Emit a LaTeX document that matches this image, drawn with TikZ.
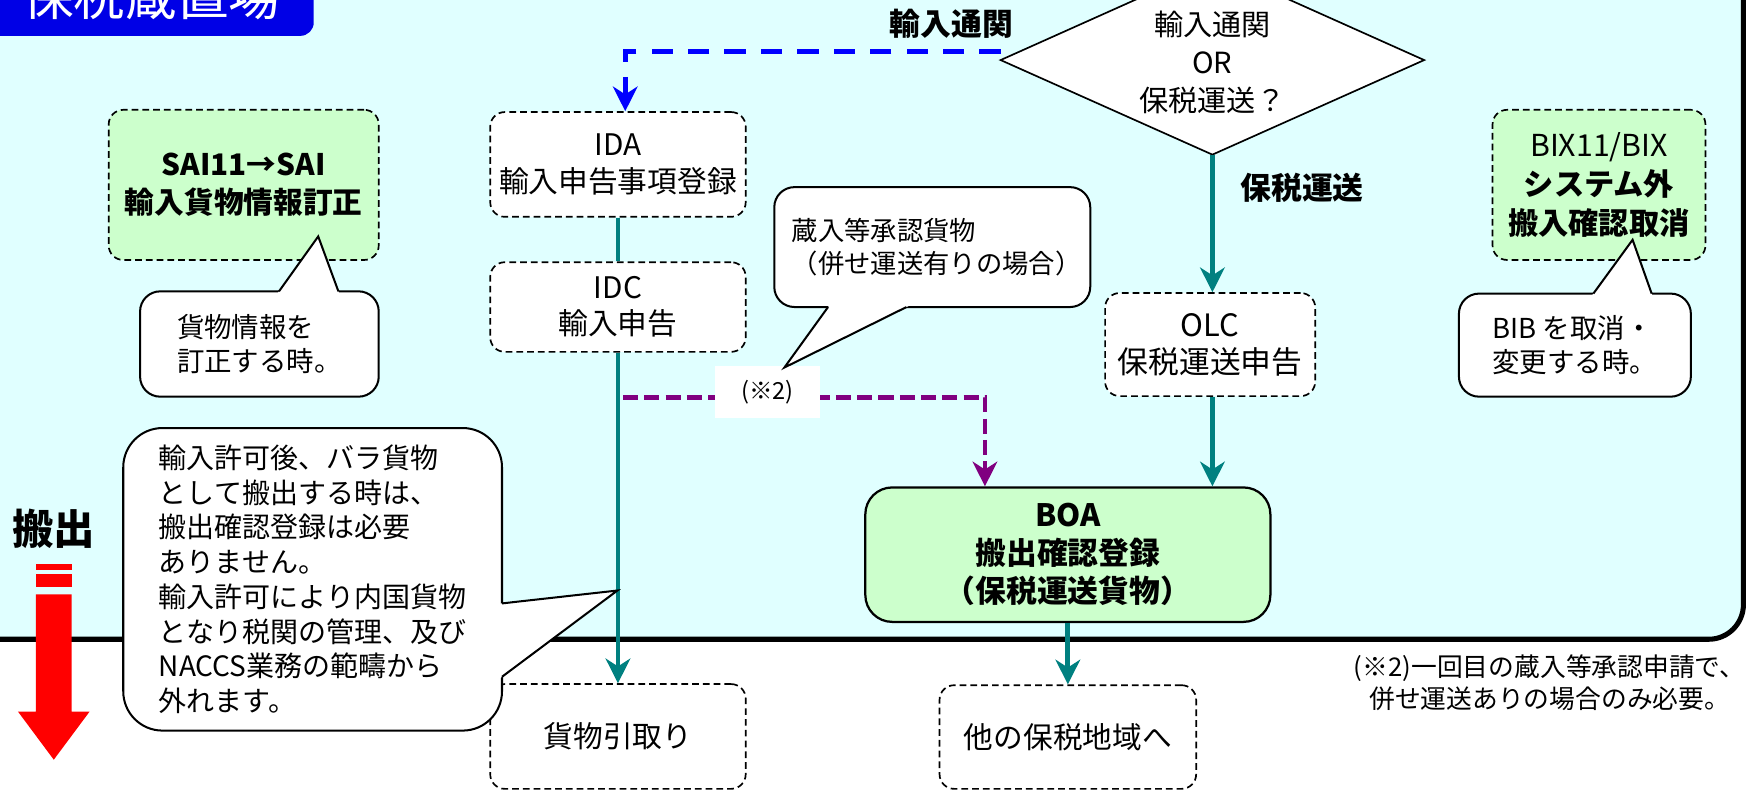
\documentclass[tikz,border=0pt]{standalone}
\usepackage{fontspec}
\setmainfont{Noto Sans CJK JP}
\usetikzlibrary{arrows.meta,calc}
\definecolor{panelc}{RGB}{224,255,255}
\definecolor{tabblue}{RGB}{0,0,230}
\definecolor{gfill}{RGB}{204,255,204}
\definecolor{tealc}{RGB}{0,128,128}
\definecolor{purp}{RGB}{128,0,128}
\definecolor{arrred}{RGB}{255,0,0}
\definecolor{bluec}{RGB}{0,0,255}
\begin{document}
\begin{tikzpicture}[x=1pt,y=-1pt,
  dbox/.style={draw=black, line width=1.5pt, dash pattern=on 6pt off 3.6pt, rounded corners=13pt, fill=white, align=center, inner sep=0pt, font=\fontsize{26.5}{32.5}\selectfont},
  gbox/.style={dbox, fill=gfill, font=\fontsize{26.5}{34}\selectfont\bfseries},
  callout/.style={draw=black, line width=1.8pt, fill=white, rounded corners=18pt, align=left, inner sep=0pt, font=\fontsize{24.5}{30.5}\selectfont},
  ptr/.style={draw=black, line width=1.8pt, line join=miter},
  arr/.style={-{Stealth[length=22pt,width=22pt,inset=7pt]}},
  tealline/.style={draw=tealc, line width=4.3pt},
  blab/.style={font=\fontsize{27.5}{30}\selectfont\bfseries, inner sep=0pt},
]
\useasboundingbox (0,0) rectangle (1560,705);
\clip (0,0) rectangle (1560,705);
\fill[white] (0,0) rectangle (1560,705);
% panel
\draw[line width=4.5pt, fill=panelc, rounded corners=31pt] (-40,-60) rectangle (1555.9,570.5);
% title tab
\fill[tabblue, rounded corners=12pt] (-30,-50) rectangle (280,32);
\node[text=white, font=\fontsize{46}{46}\selectfont, inner sep=0pt] (title) at (135,-4) {保税蔵置場};
% diamond
\coordinate (dl) at (893,53.6);
\coordinate (dr) at (1271,53.6);
\coordinate (db) at (1082,138);
\coordinate (dt) at (1082,-31);
\draw[line width=1.5pt, fill=white] (dl) -- (dt) -- (dr) -- (db) -- cycle;
\node[align=center, font=\fontsize{26}{34}\selectfont, inner sep=0pt] (dtext) at (1082,56) {輸入通関\\OR\\保税運送？};
% boxes
\node[dbox, minimum width=228pt, minimum height=93.5pt] (IDA) at (551.5,146.75) {IDA\\輸入申告事項登録};
\node[dbox, minimum width=228pt, minimum height=80pt] (IDC) at (551.5,274) {IDC\\輸入申告};
\node[dbox, minimum width=228pt, minimum height=93.5pt] (HK) at (551.5,657.25) {貨物引取り};
\node[dbox, minimum width=187.5pt, minimum height=92pt, font=\fontsize{27.5}{33}\selectfont] (OLC) at (1080,307.5) {OLC\\保税運送申告};
\node[draw=black, line width=2pt, rounded corners=24pt, fill=gfill, minimum width=361.5pt, minimum height=120pt, align=center, inner sep=0pt, font=\fontsize{27.5}{34}\selectfont\bfseries] (BOA) at (953,495) {BOA\\搬出確認登録\\（保税運送貨物）};
\node[dbox, minimum width=229pt, minimum height=92.5pt] (OT) at (953,657.75) {他の保税地域へ};
\node[gbox, minimum width=241pt, minimum height=134pt] (SAI) at (217.5,165) {SAI11→SAI\\輸入貨物情報訂正};
\node[gbox, minimum width=190pt, minimum height=134pt, font=\fontsize{27}{34.5}\selectfont\bfseries] (BIX) at (1427,165) {{\mdseries BIX11/BIX}\\システム外\\搬入確認取消};
% labels
\node[blab] (lb1) at (849,21) {輸入通関};
\node[blab] (lb2) at (1162,168) {保税運送};
% blue dashed connector
\coordinate (bst) at (893,46);
\draw[draw=bluec, line width=4.3pt, dash pattern=on 19pt off 13.5pt, arr] (bst) -| ([xshift=6.5pt]IDA.north);
% teal connectors
\draw[tealline] (IDA.south) -- (IDC.north);
\draw[tealline, arr] (IDC.south) -- (HK.north);
\draw[tealline, arr] (db) -- (db |- OLC.north);
\draw[tealline, arr] (db |- OLC.south) -- (db |- BOA.north);
\draw[tealline, arr] (BOA.south) -- (OT.north);
% purple dashed connector
\coordinate (pst) at (556,354.5);
\draw[draw=purp, line width=4.3pt, dash pattern=on 13.5pt off 5.5pt, arr] (pst) -| ([xshift=-74pt]BOA.north);
\node[fill=white, minimum width=94pt, minimum height=46pt, inner sep=0pt, font=\fontsize{21}{21}\selectfont] (n2) at (685,350) {(※2)};
% callout 1
\node[callout, minimum width=282pt, minimum height=107pt, font=\fontsize{23.5}{30}\selectfont] (c1) at (832,220.5) {\hspace*{8pt}蔵入等承認貨物\\\hspace*{8pt}（併せ運送有りの場合）};
\coordinate (c1a) at (739,274);
\coordinate (c1b) at (809,274);
\coordinate (c1t) at (700,328);
\fill[white] ($(c1t)!1.06!(c1a)$) -- (c1t) -- ($(c1t)!1.06!(c1b)$) -- cycle;
\draw[ptr] (c1a) -- (c1t) -- (c1b);
% callout 2
\node[callout, minimum width=213pt, minimum height=94pt] (c2) at (231.5,307) {貨物情報を\\訂正する時。};
\coordinate (c2a) at (249,260);
\coordinate (c2b) at (302,260);
\coordinate (c2t) at (284,211);
\fill[white] ($(c2t)!1.06!(c2a)$) -- (c2t) -- ($(c2t)!1.06!(c2b)$) -- cycle;
\draw[ptr] (c2a) -- (c2t) -- (c2b);
% callout 3
\node[callout, minimum width=207pt, minimum height=92pt] (c3) at (1405.5,308) {BIB を取消・\\変更する時。};
\coordinate (c3a) at (1422,262);
\coordinate (c3b) at (1474,262);
\coordinate (c3t) at (1457,214);
\fill[white] ($(c3t)!1.06!(c3a)$) -- (c3t) -- ($(c3t)!1.06!(c3b)$) -- cycle;
\draw[ptr] (c3a) -- (c3t) -- (c3b);
% big callout
\node[callout, rounded corners=35pt, minimum width=338pt, minimum height=270pt, font=\fontsize{25}{31}\selectfont] (c4) at (279,517) {輸入許可後、バラ貨物\\として搬出する時は、\\搬出確認登録は必要\\ありません。\\輸入許可により内国貨物\\となり税関の管理、及び\\NACCS業務の範疇から\\外れます。};
\coordinate (c4a) at (448,538.5);
\coordinate (c4b) at (448,604);
\coordinate (c4t) at (551,527);
\fill[white] ($(c4t)!1.03!(c4a)$) -- (c4t) -- ($(c4t)!1.03!(c4b)$) -- cycle;
\draw[ptr] (c4a) -- (c4t) -- (c4b);
% export label and red arrow
\node[font=\fontsize{37}{37}\selectfont\bfseries, inner sep=0pt] (hs) at (48,471.5) {搬出};
\fill[arrred] (32,503) rectangle (64,508.5);
\fill[arrred] (32,512.6) rectangle (64,524.3);
\fill[arrred] (32,530.5) -- (64,530.5) -- (64,635) -- (80,635) -- (48,678) -- (16,635) -- (32,635) -- cycle;
% footnote
\node[align=center, font=\fontsize{23}{28.5}\selectfont, inner sep=0pt] (fn) at (1383,609) {(※2)一回目の蔵入等承認申請で、\\併せ運送ありの場合のみ必要。};
\end{tikzpicture}
\end{document}
